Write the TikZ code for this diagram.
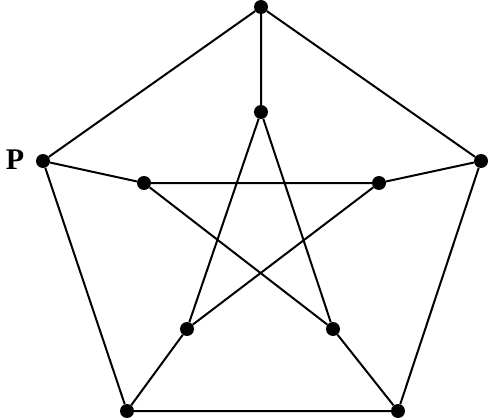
\documentclass[tikz,border=0pt]{standalone}
\usepackage{fontspec}
\setmainfont{Liberation Serif}
\begin{document}
\begin{tikzpicture}[x=1pt,y=-1pt,
  vtx/.style={circle,fill=black,inner sep=0pt,minimum size=14pt},
  edge/.style={line width=2pt}]
\useasboundingbox (0,0) rectangle (488,420);
\node[vtx] (o1) at (261,7) {};
\node[vtx] (o2) at (481,161) {};
\node[vtx] (o3) at (398,411) {};
\node[vtx] (o4) at (127,411) {};
\node[vtx] (o5) at (43,161) {};
\node[vtx] (i1) at (261,112) {};
\node[vtx] (i2) at (379,183) {};
\node[vtx] (i3) at (333,329) {};
\node[vtx] (i4) at (187,329) {};
\node[vtx] (i5) at (144,183) {};
\node[font=\fontsize{30}{30}\selectfont\bfseries] (p) at (15,160) {P};
\draw[edge] (o1) -- (o2) -- (o3) -- (o4) -- (o5) -- (o1);
\draw[edge] (o1) -- (i1) (o2) -- (i2) (o3) -- (i3) (o4) -- (i4) (o5) -- (i5);
\draw[edge] (i1) -- (i3) -- (i5) -- (i2) -- (i4) -- (i1);
\end{tikzpicture}
\end{document}
